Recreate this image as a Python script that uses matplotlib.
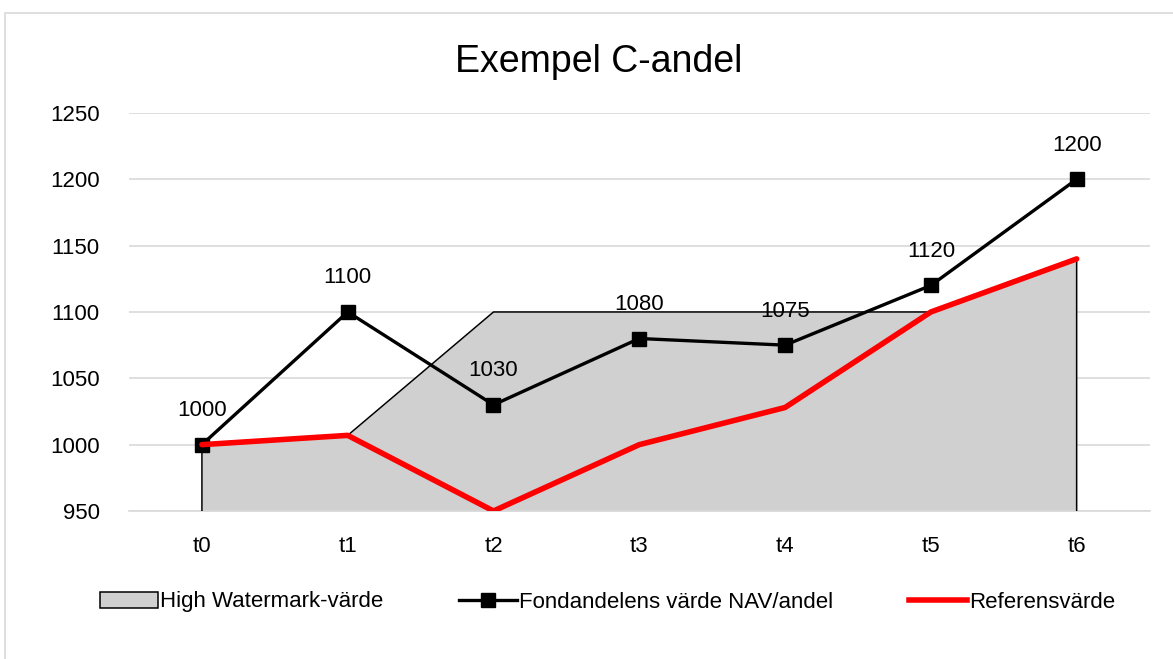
import matplotlib.pyplot as plt
from matplotlib.patches import Rectangle, Patch
from matplotlib.lines import Line2D

plt.rcParams['font.family'] = ['Liberation Sans', 'DejaVu Sans']

# Data
labels = ['t0', 't1', 't2', 't3', 't4', 't5', 't6']
hwm = [1000, 1007, 1100, 1100, 1100, 1100, 1140]
nav = [1000, 1100, 1030, 1080, 1075, 1120, 1200]
ref = [1000, 1007, 950, 1000, 1028, 1100, 1140]

x = list(range(len(labels)))
ymin, ymax = 950, 1250

fig = plt.figure(figsize=(11.73, 6.59), dpi=100)
ax = fig.add_axes([0.11, 0.2246, 0.87, 0.604])

# chart border
fig.patches.append(Rectangle((5 / 1173, -0.05), 1.2, 1 - 13 / 659 + 0.05,
                             transform=fig.transFigure, fill=False,
                             edgecolor='#d9d9d9', linewidth=1.2))

# High watermark area
ax.fill_between(x, ymin, hwm, color='#d0d0d0', linewidth=0, zorder=2)
ax.plot([x[0]] + x + [x[-1]], [ymin] + hwm + [ymin], color='black',
        linewidth=1.1, zorder=3)

# NAV line
ax.plot(x, nav, color='black', linewidth=2.4, marker='s', markersize=10,
        zorder=4)
for xi, v in zip(x, nav):
    ax.annotate(str(v), (xi, v), xytext=(0, 17), textcoords='offset points',
                ha='center', va='bottom', fontsize=16, zorder=6)

# Reference line
ax.plot(x, ref, color='#ff0000', linewidth=4, solid_capstyle='round',
        zorder=5)

ax.set_xlim(-0.5, len(labels) - 0.5)
ax.set_ylim(ymin, ymax)
ax.set_yticks(range(950, 1251, 50))
ax.set_xticks(x)
ax.set_xticklabels(labels)
ax.tick_params(length=0, labelsize=16)
ax.tick_params(axis='x', pad=18)
ax.tick_params(axis='y', pad=21)
ax.grid(axis='y', color='#d9d9d9', linewidth=1.2, zorder=0)
ax.set_axisbelow(True)
for s in ['top', 'right', 'left']:
    ax.spines[s].set_visible(False)
ax.spines['bottom'].set_color('#d9d9d9')
ax.spines['bottom'].set_linewidth(1.2)

fig.text(0.51, 1 - 62 / 659, 'Exempel C-andel', ha='center', va='center',
         fontsize=27)

# Legend
handles = [
    Patch(facecolor='#d0d0d0', edgecolor='black', linewidth=1.1),
    Line2D([], [], color='black', linewidth=2.4, marker='s', markersize=10),
    Line2D([], [], color='#ff0000', linewidth=4),
]
names = ['High Watermark-värde', 'Fondandelens värde NAV/andel',
         'Referensvärde']
fig.legend(handles, names, loc='center', bbox_to_anchor=(0.518, 1 - 602 / 659),
           ncol=3, frameon=False, fontsize=16, handlelength=2.6,
           handletextpad=0.1, columnspacing=3.4)

fig.savefig('out.png', dpi=100)
